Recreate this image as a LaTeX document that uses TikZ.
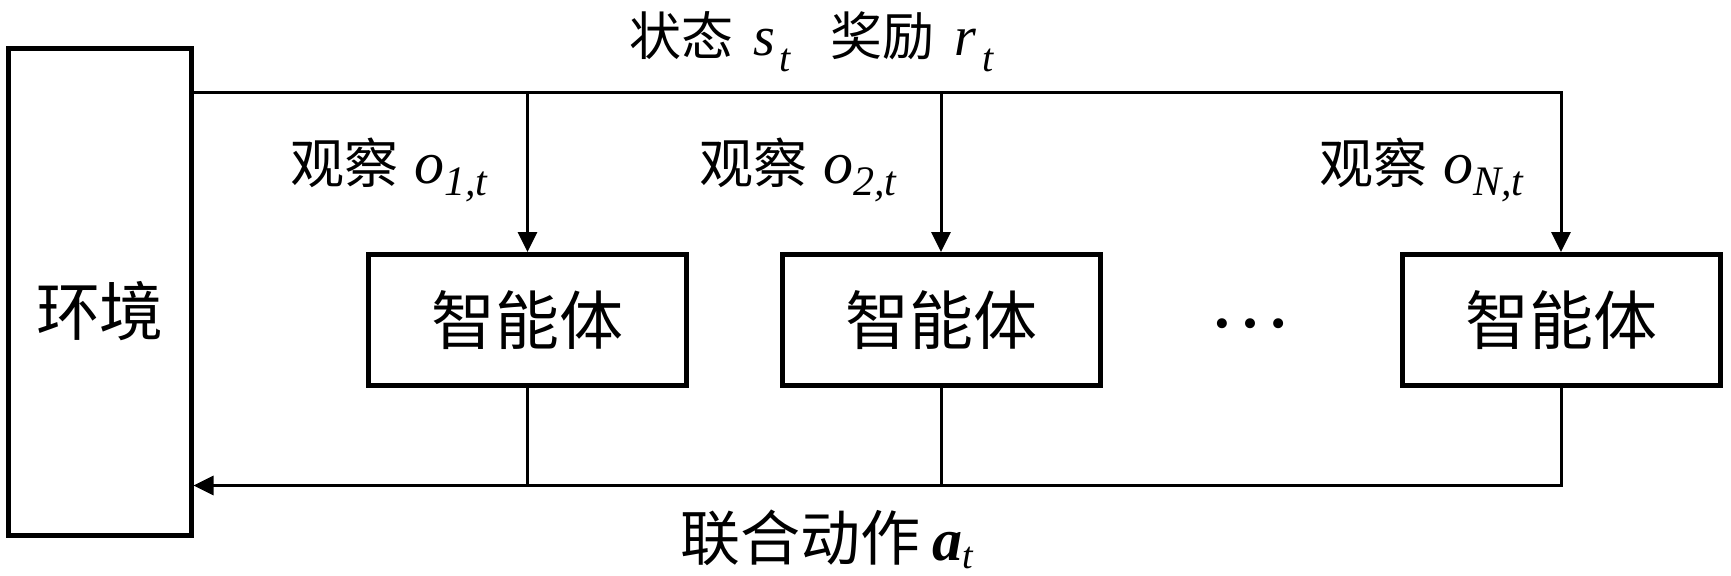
\documentclass[tikz,border=0pt]{standalone}
\usepackage{fontspec}
\setmainfont{Liberation Serif}
\newfontfamily\cjk{Noto Sans CJK SC}
\usetikzlibrary{arrows.meta}
\newcommand\mysubs[3]{\raisebox{#1}{\fontsize{#2}{22}\selectfont\itshape #3}}
\begin{document}
\begin{tikzpicture}[x=0.5pt,y=-0.5pt,
  agentbox/.style={draw,line width=2.5pt,minimum width=159pt,minimum height=65.25pt,inner sep=0pt,
    font=\cjk\fontsize{32}{38}\selectfont},
  envbox/.style={draw,line width=2.5pt,minimum width=91.25pt,minimum height=243.5pt,inner sep=0pt},
  bigtext/.style={inner sep=0pt,font=\cjk\fontsize{32}{38}\selectfont},
  conn/.style={line width=1.5pt},
  arr/.style={conn,-{Triangle[length=10pt,width=9.5pt]}},
  toplbl/.style={inner sep=0pt,anchor=base west,font=\fontsize{26}{30}\selectfont},
  obslbl/.style={inner sep=0pt,anchor=base west,font=\fontsize{27}{32}\selectfont},
  botlbl/.style={inner sep=0pt,anchor=base west,font=\fontsize{30}{36}\selectfont}]
\useasboundingbox (0,0) rectangle (1731,575);
% nodes
\node[envbox] (env) at (99.75,291.5) {};
\node[bigtext] (envtext) at (100,311) {环境};
\node[agentbox] (a1) at (527.5,319.75) {智能体};
\node[agentbox] (a2) at (941,319.75) {智能体};
\node[agentbox] (a3) at (1561,319.75) {智能体};
\node[inner sep=0pt,anchor=base,font=\fontsize{42}{46}\selectfont] (dots) at (1250,327) {…};
% labels
\node[toplbl] (st) at (629,55) {{\cjk 状态}\hspace{10pt}{\fontsize{28}{30}\selectfont\textit{s}}\hspace{2pt}\mysubs{-8pt}{20}{t}\hspace{20pt}{\cjk 奖励}\hspace{10pt}{\fontsize{28}{30}\selectfont\textit{r}}\hspace{3pt}\mysubs{-8pt}{20}{t}};
\node[obslbl] (o1) at (290,183) {{\cjk 观察}\hspace{8pt}{\fontsize{30}{32}\selectfont\textit{o}}\mysubs{-6pt}{21}{1,t}};
\node[obslbl] (o2) at (699,183) {{\cjk 观察}\hspace{8pt}{\fontsize{30}{32}\selectfont\textit{o}}\mysubs{-6pt}{21}{2,t}};
\node[obslbl] (oN) at (1319,183) {{\cjk 观察}\hspace{8pt}{\fontsize{30}{32}\selectfont\textit{o}}\mysubs{-6pt}{21}{N,t}};
\node[botlbl] (at) at (680,560) {{\cjk 联合动作}\hspace{6pt}\textbf{\textit{a}}\mysubs{-4pt}{19}{t}};
% connectors
\coordinate (tr) at (1561,92.7);
\coordinate (br) at (1561,485.5);
\draw[arr] (env.east |- tr) -- (tr) -- (a3.north);
\draw[arr] (a1.north |- tr) -- (a1.north);
\draw[arr] (a2.north |- tr) -- (a2.north);
\draw[conn] (a1.south) -- (a1.south |- br);
\draw[conn] (a2.south) -- (a2.south |- br);
\draw[arr] (a3.south) -- (br) -- (env.east |- br);
\end{tikzpicture}
\end{document}
